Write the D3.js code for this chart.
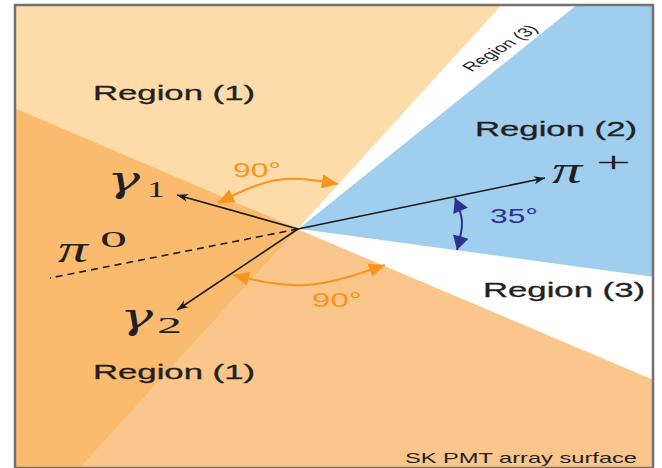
<!DOCTYPE html>
<html><head><meta charset="utf-8">
<script src="https://cdn.jsdelivr.net/npm/d3@7"></script>
<style>html,body{margin:0;padding:0;background:#fff;} svg{display:block}</style>
</head><body><svg id="c" width="662" height="468"></svg>
<script>
// Diagram coordinates, relative to the interaction vertex.
const frameX = [-282, 354];
const frameY = [-223, 238];

const regionIds = ["r1Upper", "r1Left", "r1Lower", "r2", "r3Upper", "r3Lower"];
const regionFills = ["#FEDCAA", "#FABB6F", "#FBC68B", "#A0CEEE", "#FFFFFF", "#FFFFFF"];
const regionPolys = [
  [[0, 0], [-282, -120], [-282, -223], [203, -223]],
  [[0, 0], [-282, -120], [-282, 238], [-217, 238]],
  [[0, 0], [-217, 238], [354, 238], [354, 150]],
  [[0, 0], [277, -223], [354, -223], [354, 48]],
  [[0, 0], [203, -223], [277, -223]],
  [[0, 0], [354, 48], [354, 150]]
];

const particleNames = ["gamma1", "gamma2", "pi0", "piPlus"];
const particleTips = [[-121, -34], [-121, 81], [-248, 49], [247, -51]];
const particleDashed = [false, false, true, false];

const regionLabels = ["Region (1)", "Region (2)", "Region (3)", "Region (1)"];
const regionLabelPos = [[-205, -129], [177, -93], [185, 68], [-205, 150]];
const regionLabelLen = [162, 162, 162, 162];

const stripLabel = "Region (3)";
const stripLabelPos = [202, -181];
const stripLabelAngle = -47;

const footLabel = "SK PMT array surface";
const footLabelPos = [107, 234];
const footLabelLen = 232;

const angleLabels = ["90°", "90°", "35°"];
const angleLabelPos = [[-65, -52], [14, 78], [192, -6]];
const angleLabelLen = [48, 50, 48];
const angleColors = ["#F7941D", "#F7941D", "#2E3192"];
const angleArcs = [
  [[-80, -26], [-21, -49], [40, -45]],
  [[-65, 46], [9, 56], [87, 36]],
  [[157, -31], [164, -7], [159, 21]]
];

// math symbols: main glyph and its sub/superscript
const mathMain = ["γ", "γ", "π", "π"];
const mathMainFont = ["'DejaVu Serif', serif", "'DejaVu Serif', serif", "'Liberation Serif', serif", "'Liberation Serif', serif"];
const mathMainPos = [[-191, -37], [-178, 100], [-240, 33], [254, -46]];
const mathMainLen = [33, 33, 30, 30];
const mathMainSize = [35, 35, 37, 37];
const mathScript = ["1", "2", "0", "+"];
const mathScriptPos = [[-151, -32], [-141, 104], [-198, 18], [298, -57]];
const mathScriptLen = [18, 25, 27, 35];
const mathScriptSize = [24, 24, 23, 30];

const svg = d3.select("#c");
const x = d3.scaleLinear().domain(frameX).range([16, 652]);
const y = d3.scaleLinear().domain(frameY).range([6, 467]);
const P = p => [x(p[0]), y(p[1])];

const defs = svg.append("defs");
function marker(id, color, len, hw, notch) {
  defs.append("marker").attr("id", id)
    .attr("viewBox", `${-len - 1} ${-hw - 1} ${len + 2} ${2 * hw + 2}`)
    .attr("refX", 0).attr("refY", 0)
    .attr("markerUnits", "userSpaceOnUse")
    .attr("markerWidth", len + 2).attr("markerHeight", 2 * hw + 2)
    .attr("orient", "auto-start-reverse")
    .append("path")
    .attr("d", `M0,0 L${-len},${-hw} L${-len + notch},0 L${-len},${hw} Z`)
    .attr("fill", color);
}
marker("arBlack", "#1a1a1a", 11, 4, 3);
marker("arOrange", "#F7941D", 16, 7, 0);
marker("arBlue", "#2E3192", 14, 8, 0);

svg.append("rect").attr("x", x(frameX[0])).attr("y", y(frameY[0]))
  .attr("width", x(frameX[1]) - x(frameX[0])).attr("height", y(frameY[1]) - y(frameY[0]))
  .attr("fill", "#fff");

svg.append("g").selectAll("polygon").data(regionPolys).join("polygon")
  .attr("id", (d, i) => regionIds[i])
  .attr("points", d => d.map(P).map(p => p.join(",")).join(" "))
  .attr("fill", (d, i) => regionFills[i])
  .attr("stroke", (d, i) => regionFills[i]).attr("stroke-width", 0.5);

svg.append("rect").attr("x", x(frameX[0]) - 1).attr("y", y(frameY[0]) - 1)
  .attr("width", x(frameX[1]) - x(frameX[0]) + 2).attr("height", y(frameY[1]) - y(frameY[0]) + 2)
  .attr("fill", "none").attr("stroke", "#727272").attr("stroke-width", 2.5);

const arcLine = d3.line().x(d => x(d[0])).y(d => y(d[1])).curve(d3.curveNatural);
svg.append("g").selectAll("path").data(angleArcs).join("path")
  .attr("d", arcLine).attr("fill", "none")
  .attr("stroke", (d, i) => angleColors[i]).attr("stroke-width", 2)
  .attr("marker-start", (d, i) => i < 2 ? "url(#arOrange)" : "url(#arBlue)")
  .attr("marker-end", (d, i) => i < 2 ? "url(#arOrange)" : "url(#arBlue)");

svg.append("g").selectAll("line").data(particleTips).join("line")
  .attr("id", (d, i) => particleNames[i])
  .attr("x1", x(0)).attr("y1", y(0))
  .attr("x2", d => x(d[0])).attr("y2", d => y(d[1]))
  .attr("stroke", "#1a1a1a").attr("stroke-width", 1.6)
  .attr("stroke-dasharray", (d, i) => particleDashed[i] ? "7,5" : null)
  .attr("marker-end", (d, i) => particleDashed[i] ? null : "url(#arBlack)");

const sans = "'Liberation Sans', Arial, Helvetica, sans-serif";
const serifUp = "'Liberation Serif', 'Times New Roman', serif";

svg.append("g").selectAll("text").data(regionLabels).join("text")
  .attr("x", (d, i) => x(regionLabelPos[i][0])).attr("y", (d, i) => y(regionLabelPos[i][1]))
  .attr("textLength", (d, i) => regionLabelLen[i]).attr("lengthAdjust", "spacingAndGlyphs")
  .attr("font-family", sans).attr("font-size", 19.5).attr("fill", "#231F20")
  .attr("stroke", "#231F20").attr("stroke-width", 0.3)
  .text(d => d);

svg.append("text")
  .attr("transform", `translate(${x(stripLabelPos[0])},${y(stripLabelPos[1])}) scale(1.7,1) rotate(${stripLabelAngle})`)
  .attr("text-anchor", "middle").attr("dominant-baseline", "central")
  .attr("font-family", sans).attr("font-size", 12.5).attr("fill", "#231F20")
  .text(stripLabel);

svg.append("text")
  .attr("x", x(footLabelPos[0])).attr("y", y(footLabelPos[1]))
  .attr("textLength", footLabelLen).attr("lengthAdjust", "spacingAndGlyphs")
  .attr("font-family", sans).attr("font-size", 15).attr("fill", "#231F20")
  .text(footLabel);

svg.append("g").selectAll("text").data(angleLabels).join("text")
  .attr("x", (d, i) => x(angleLabelPos[i][0])).attr("y", (d, i) => y(angleLabelPos[i][1]))
  .attr("textLength", (d, i) => angleLabelLen[i]).attr("lengthAdjust", "spacingAndGlyphs")
  .attr("font-family", sans).attr("font-size", 19.5).attr("fill", (d, i) => angleColors[i])
  .text(d => d);

svg.append("g").selectAll("text").data(mathMain).join("text")
  .attr("x", (d, i) => x(mathMainPos[i][0])).attr("y", (d, i) => y(mathMainPos[i][1]))
  .attr("textLength", (d, i) => mathMainLen[i]).attr("lengthAdjust", "spacingAndGlyphs")
  .attr("font-family", (d, i) => mathMainFont[i]).attr("font-style", "italic")
  .attr("font-size", (d, i) => mathMainSize[i])
  .attr("fill", "#231F20")
  .text(d => d);

svg.append("g").selectAll("text").data(mathScript).join("text")
  .attr("x", (d, i) => x(mathScriptPos[i][0])).attr("y", (d, i) => y(mathScriptPos[i][1]))
  .attr("textLength", (d, i) => mathScriptLen[i]).attr("lengthAdjust", "spacingAndGlyphs")
  .attr("font-family", serifUp).attr("font-size", (d, i) => mathScriptSize[i]).attr("fill", "#231F20")
  .text(d => d);
</script></body></html>
